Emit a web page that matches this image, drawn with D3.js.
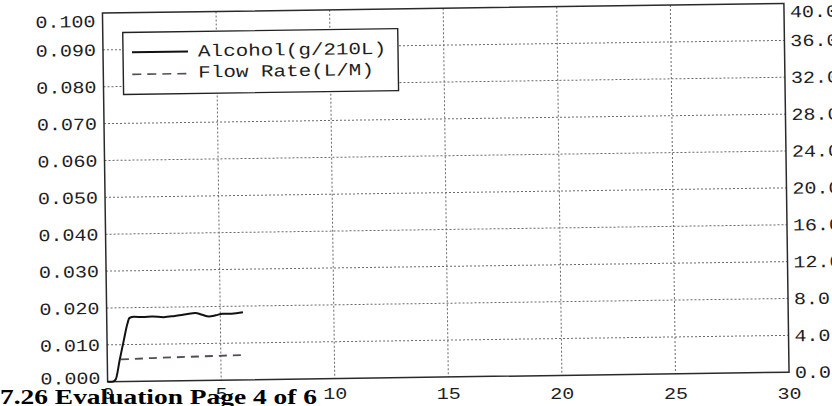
<!DOCTYPE html>
<html>
<head>
<meta charset="utf-8">
<script src="https://cdn.jsdelivr.net/npm/d3@7"></script>
<style>
  body { margin: 0; background: #fff; overflow: hidden; }
  svg { display: block; }
</style>
</head>
<body>
<script>
// values
const alcoholTime  = [0, 0.2, 0.35, 0.55, 0.75, 0.9, 1.0, 1.2, 1.6, 2.0, 2.5, 3.0, 3.5, 3.9, 4.2, 4.5, 4.8, 5.1, 5.5, 6.0];
const alcoholValue = [0, 0, 0.0005, 0.006, 0.0115, 0.0155, 0.0172, 0.0175, 0.0174, 0.0175, 0.0173, 0.0176, 0.018, 0.0183, 0.0178, 0.0173, 0.0176, 0.018, 0.018, 0.0183];

const flowTime  = [0.6, 2.0, 4.0, 6.0];
const flowValue = [2.4, 2.5, 2.6, 2.7];

const xTicks = [0, 5, 10, 15, 20, 25, 30];
const xLabels = ["0", "5", "10", "15", "20", "25", "30"];
const leftTicks = [0, 0.01, 0.02, 0.03, 0.04, 0.05, 0.06, 0.07, 0.08, 0.09, 0.1];
const leftLabels = ["0.000", "0.010", "0.020", "0.030", "0.040", "0.050", "0.060", "0.070", "0.080", "0.090", "0.100"];
const rightTicks = [0, 4, 8, 12, 16, 20, 24, 28, 32, 36, 40];
const rightLabels = ["0.0", "4.0", "8.0", "12.0", "16.0", "20.0", "24.0", "28.0", "32.0", "36.0", "40.0"];
const legendLabels = ["Alcohol(g/210L)", "Flow Rate(L/M)"];
const title = "7.26 Evaluation  Page 4 of 6";

const width = 832, height = 406;
const plot = {left: 105, right: 786.5, top: 8.25, bottom: 377};
const mono = "'Liberation Mono', 'DejaVu Sans Mono', monospace";

const x = d3.scaleLinear().domain([0, 30]).range([plot.left, plot.right]);
const y = d3.scaleLinear().domain([0, 0.1]).range([plot.bottom, plot.top]);
const y2 = d3.scaleLinear().domain([0, 40]).range([plot.bottom, plot.top]);

const svg = d3.select("body").append("svg")
    .attr("width", width)
    .attr("height", height)
    .attr("viewBox", [0, 0, width, height]);

// the scan is a little tilted
const g = svg.append("g")
    .attr("transform", `rotate(-0.8, ${(plot.left + plot.right) / 2}, ${(plot.top + plot.bottom) / 2})`);

// grid
g.append("g")
    .attr("stroke", "#6a6a6a")
    .attr("stroke-width", 1)
    .attr("stroke-dasharray", "2,2")
  .selectAll("line")
  .data(leftTicks.slice(1, -1))
  .join("line")
    .attr("x1", plot.left).attr("x2", plot.right)
    .attr("y1", d => y(d)).attr("y2", d => y(d));

g.append("g")
    .attr("stroke", "#6a6a6a")
    .attr("stroke-width", 1)
    .attr("stroke-dasharray", "2,2")
  .selectAll("line")
  .data(xTicks.slice(1, -1))
  .join("line")
    .attr("x1", d => x(d)).attr("x2", d => x(d))
    .attr("y1", plot.top).attr("y2", plot.bottom);

// frame
g.append("rect")
    .attr("x", plot.left).attr("y", plot.top)
    .attr("width", plot.right - plot.left)
    .attr("height", plot.bottom - plot.top)
    .attr("fill", "none")
    .attr("stroke", "#2a2a2a")
    .attr("stroke-width", 1.5);

// axes
const nudge = (d, lo, hi) => d === hi ? 8 : d === lo ? -4 : 0;

const gy = g.append("g")
    .attr("transform", `translate(${plot.left},0)`)
    .call(d3.axisLeft(y).tickValues(leftTicks).tickFormat((d, i) => leftLabels[i]).tickSize(0).tickPadding(6));
gy.select(".domain").remove();
gy.selectAll(".tick text")
    .attr("y", d => nudge(d, 0, 0.1))
    .attr("transform", "scale(1.18,1)");

const gy2 = g.append("g")
    .attr("transform", `translate(${plot.right},0)`)
    .call(d3.axisRight(y2).tickValues(rightTicks).tickFormat((d, i) => rightLabels[i]).tickSize(0).tickPadding(5));
gy2.select(".domain").remove();
gy2.selectAll(".tick text")
    .attr("y", d => nudge(d, -1, 40))
    .attr("transform", "scale(1.18,1)");

// bottom labels sit level in the scan, not along the tilted axis
const gx = svg.append("g")
    .attr("transform", "translate(2.5,380)")
    .call(d3.axisBottom(x).tickValues(xTicks).tickFormat((d, i) => xLabels[i]).tickSize(0).tickPadding(7));
gx.select(".domain").remove();
gx.selectAll(".tick text")
    .attr("transform", "scale(1.18,1)");

svg.selectAll(".tick text")
    .attr("font-family", mono)
    .attr("font-size", 17)
    .attr("fill", "#1e1e1e");

// series
const alcohol = alcoholTime.map((t, i) => [t, alcoholValue[i]]);
const flow = flowTime.map((t, i) => [t, flowValue[i]]);

g.append("path")
    .datum(flow)
    .attr("fill", "none")
    .attr("stroke", "#56495c")
    .attr("stroke-width", 1.8)
    .attr("stroke-dasharray", "8,6")
    .attr("d", d3.line().x(d => x(d[0])).y(d => y2(d[1])));

g.append("path")
    .datum(alcohol)
    .attr("fill", "none")
    .attr("stroke", "#111")
    .attr("stroke-width", 2)
    .attr("stroke-linejoin", "round")
    .attr("d", d3.line().x(d => x(d[0])).y(d => y(d[1])).curve(d3.curveMonotoneX));

// legend
const legend = g.append("g").attr("transform", "translate(125,28)");
legend.append("rect")
    .attr("width", 275).attr("height", 62)
    .attr("fill", "#fff")
    .attr("stroke", "#222")
    .attr("stroke-width", 1.4);
legend.append("line")
    .attr("x1", 9).attr("x2", 65).attr("y1", 20).attr("y2", 20)
    .attr("stroke", "#111").attr("stroke-width", 2);
legend.append("line")
    .attr("x1", 9).attr("x2", 65).attr("y1", 42).attr("y2", 42)
    .attr("stroke", "#56495c").attr("stroke-width", 1.6)
    .attr("stroke-dasharray", "9,6");
legend.selectAll("text")
  .data(legendLabels)
  .join("text")
    .attr("transform", (d, i) => `translate(75,${25 + i * 21}) scale(1.23,1)`)
    .attr("font-family", mono)
    .attr("font-size", 17)
    .attr("fill", "#1e1e1e")
    .text(d => d);

// page header from the next page, overprinted in the scan
svg.append("text")
    .attr("x", 0)
    .attr("y", 404)
    .attr("font-family", "'Liberation Serif', 'Times New Roman', serif")
    .attr("font-weight", "bold")
    .attr("font-size", 22)
    .attr("fill", "#000")
    .attr("textLength", 317)
    .attr("lengthAdjust", "spacingAndGlyphs")
    .text(title);
</script>
</body>
</html>
